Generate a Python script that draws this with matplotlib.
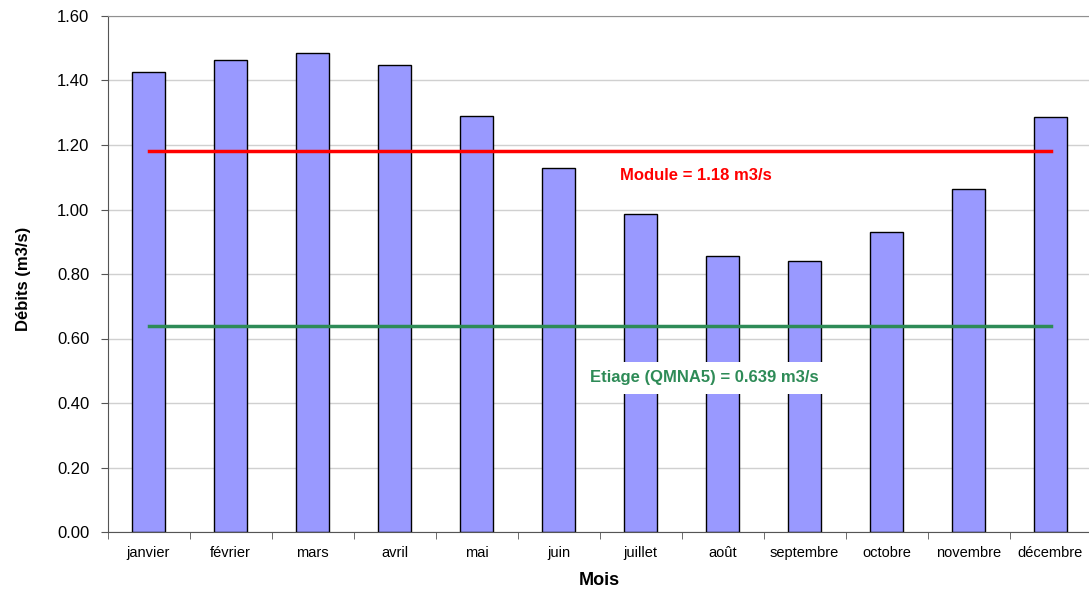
import matplotlib.pyplot as plt
import numpy as np

plt.rcParams['font.family'] = ['Liberation Sans', 'DejaVu Sans']

mois = ["janvier", "février", "mars", "avril", "mai", "juin", "juillet",
        "août", "septembre", "octobre", "novembre", "décembre"]
debits = [1.426, 1.464, 1.485, 1.448, 1.291, 1.129, 0.986,
          0.857, 0.840, 0.931, 1.064, 1.288]
module = 1.18
etiage = 0.639

fig = plt.figure(figsize=(10.89, 5.90), dpi=100)
ax = fig.add_axes([107.5 / 1089, 58 / 590, 984 / 1089, 516 / 590])

x = np.arange(len(mois))
ax.bar(x, debits, width=0.4, color="#9999FF", edgecolor="black", linewidth=1.0, zorder=2)

# valeurs de référence
ax.plot([x[0], x[-1]], [module, module], color="#FF0000", linewidth=2.5, zorder=3)
ax.plot([x[0], x[-1]], [etiage, etiage], color="#2E8B57", linewidth=2.5, zorder=3)

ax.text(6.68, 1.105, "Module = 1.18 m3/s", color="#FF0000", fontsize=12,
        fontweight="bold", ha="center", va="center", zorder=4)
ax.text(6.78, 0.478, "Etiage (QMNA5) = 0.639 m3/s", color="#2E8B57", fontsize=12,
        fontweight="bold", ha="center", va="center", zorder=4,
        bbox=dict(facecolor="white", edgecolor="none", pad=6))

ax.set_xlim(-0.5, len(mois) - 0.5)
ax.set_ylim(0, 1.6)
ax.set_yticks(np.arange(0, 1.61, 0.2))
ax.set_yticklabels([f"{v:.2f}" for v in np.arange(0, 1.61, 0.2)], fontsize=12)
ax.set_xticks(x)
ax.set_xticklabels(mois, fontsize=10.5)
ax.set_xticks(np.arange(-0.5, len(mois)), minor=True)
ax.tick_params(axis="x", which="major", length=0, pad=10)
ax.tick_params(axis="x", which="minor", length=5, direction="out", color="#555555")
ax.tick_params(axis="y", length=5, direction="out", color="#555555", pad=8)

ax.grid(axis="y", color="#D0D0D0", linewidth=1.0, zorder=0)
ax.spines["top"].set_color("#909090")
ax.spines["right"].set_visible(False)
ax.spines["left"].set_color("#555555")
ax.spines["bottom"].set_color("#555555")

ax.set_xlabel("Mois", fontsize=13, fontweight="bold", labelpad=9)
ax.set_ylabel("Débits (m3/s)", fontsize=12, fontweight="bold")
ax.yaxis.set_label_coords(-0.078, 0.49)

fig.savefig("out.png", dpi=100)
